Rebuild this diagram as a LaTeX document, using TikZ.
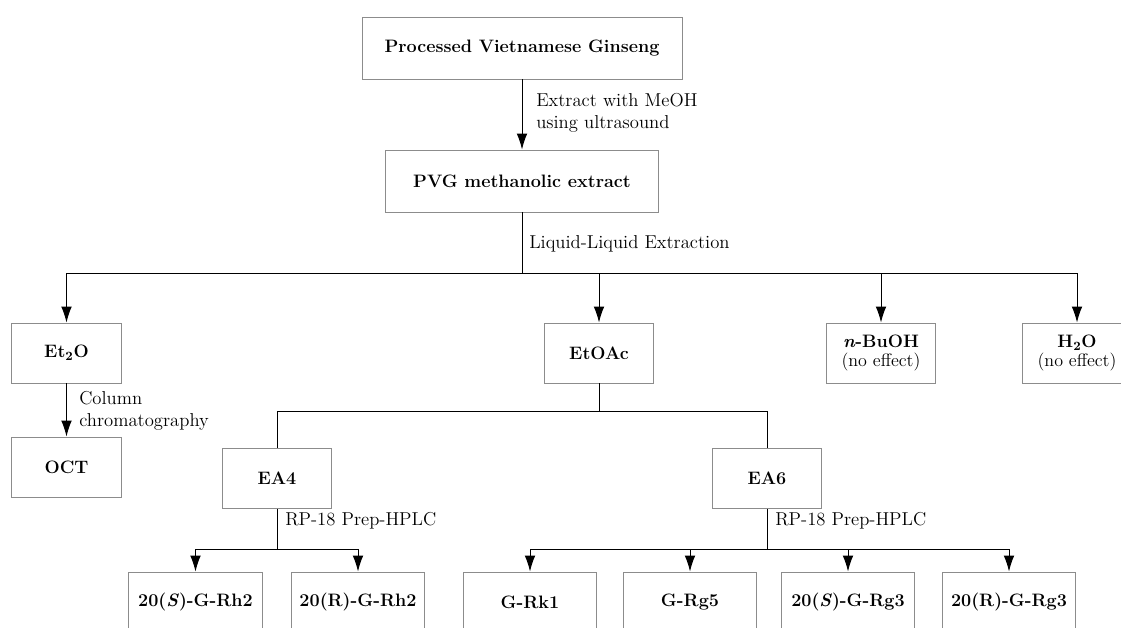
\documentclass[tikz,border=0pt]{standalone}
\usetikzlibrary{arrows.meta}
\newcommand{\Taille}{\fontsize{13.5}{14}\selectfont}
\begin{document}
\begin{tikzpicture}[x=0.75pt,y=-0.75pt]
	\tikzstyle{fleche}=[-{Latex[length=12pt,width=8pt]},line width=0.75pt]
	\tikzstyle{trait}=[line width=0.75pt]
	\tikzstyle{boite}=[draw=black!45,line width=0.7pt,minimum height=45pt,align=center,font=\Taille\bfseries]
	\tikzstyle{etiquette}=[anchor=west,align=left,inner sep=0pt,font=\fontsize{14}{17}\selectfont]
	\def\LargeurA{82pt}\def\LargeurB{100pt}
	\useasboundingbox (0,0) rectangle (1121,628);
	% boites
	\node[boite,minimum width=240pt,minimum height=46.5pt] (PVG) at (522,48) {Processed Vietnamese Ginseng};
	\node[boite,minimum width=205pt,minimum height=46.5pt] (Extr) at (522,181) {PVG methanolic extract};
	\node[boite,minimum width=\LargeurA] (Et) at (66.5,353) {Et\textsubscript{2}O};
	\node[boite,minimum width=\LargeurA] (OCT) at (66.5,467) {OCT};
	\node[boite,minimum width=\LargeurA] (EtOAc) at (599,353) {EtOAc};
	\node[boite,minimum width=\LargeurA] (Bu) at (881,353) {\textit{n}-BuOH\\\mdseries(no effect)};
	\node[boite,minimum width=\LargeurA] (Eau) at (1077,353) {H\textsubscript{2}O\\\mdseries(no effect)};
	\node[boite,minimum width=\LargeurA] (EAq) at (277,478.5) {EA4};
	\node[boite,minimum width=\LargeurA] (EAs) at (767,478.5) {EA6};
	\node[boite,minimum width=\LargeurB] (SRh) at (195.5,602) {20(\textit{S})-G-Rh2};
	\node[boite,minimum width=\LargeurB] (RRh) at (358,602) {20(R)-G-Rh2};
	\node[boite,minimum width=\LargeurB] (Rk) at (530,602) {G-Rk1};
	\node[boite,minimum width=\LargeurB] (Rg) at (690,602) {G-Rg5};
	\node[boite,minimum width=\LargeurB] (SRg) at (848,602) {20(\textit{S})-G-Rg3};
	\node[boite,minimum width=\LargeurB] (RRg) at (1009,602) {20(R)-G-Rg3};
	% points de branchement
	\coordinate (LL) at (522,273);
	\coordinate (EA) at (599,411);
	\coordinate (HPa) at (277,549);
	\coordinate (HPb) at (767,549);
	% liaisons
	\draw[fleche] (PVG)--(Extr);
	\draw[trait] (Extr)--(LL);
	\draw[fleche] (LL)-|(Et.north);
	\draw[fleche] (LL)-|(EtOAc.north);
	\draw[fleche] (LL)-|(Bu.north);
	\draw[fleche] (LL)-|(Eau.north);
	\draw[fleche] (Et)--(OCT);
	\draw[trait] (EtOAc)--(EA);
	\draw[trait] (EA)-|(EAq.north);
	\draw[trait] (EA)-|(EAs.north);
	\draw[trait] (EAq)--(HPa);
	\draw[fleche] (HPa)-|(SRh.north);
	\draw[fleche] (HPa)-|(RRh.north);
	\draw[trait] (EAs)--(HPb);
	\draw[fleche] (HPb)-|(Rk.north);
	\draw[fleche] (HPb)-|(Rg.north);
	\draw[fleche] (HPb)-|(SRg.north);
	\draw[fleche] (HPb)-|(RRg.north);
	% etiquettes
	\node[etiquette] (LabA) at (536,113) {Extract with MeOH\\using ultrasound};
	\node[etiquette] (LabB) at (529,244) {Liquid-Liquid Extraction};
	\node[etiquette] (LabC) at (79,411) {Column\\chromatography};
	\node[etiquette] (LabD) at (285,521) {RP-18 Prep-HPLC};
	\node[etiquette] (LabE) at (775,521) {RP-18 Prep-HPLC};
\end{tikzpicture}
\end{document}
